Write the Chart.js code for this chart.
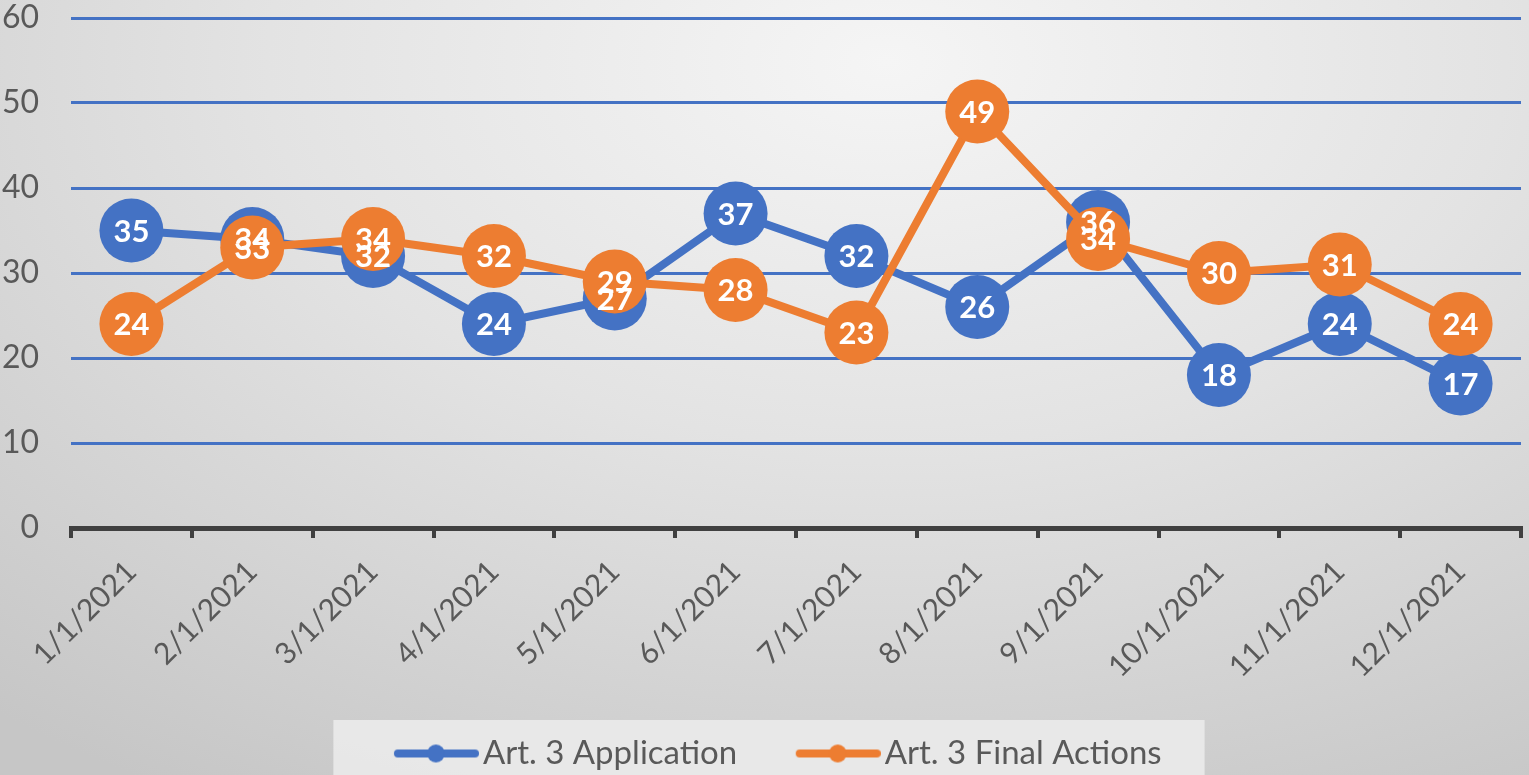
<!DOCTYPE html>
<html>
<head>
<meta charset="utf-8">
<script src="https://cdn.jsdelivr.net/npm/chart.js@4.4.0/dist/chart.umd.min.js"></script>
<style>
    html, body { margin: 0; padding: 0; }
    body {
        width: 1529px; height: 775px; overflow: hidden;
        background: radial-gradient(ellipse 90% 110% at 58% 8%, #f5f5f5 0%, #e3e3e3 45%, #c6c6c6 100%);
    }
    canvas { display: block; }
</style>
</head>
<body>
<canvas id="myChart" width="1529" height="775"></canvas>
<script>
const labels = ['1/1/2021', '2/1/2021', '3/1/2021', '4/1/2021', '5/1/2021', '6/1/2021',
    '7/1/2021', '8/1/2021', '9/1/2021', '10/1/2021', '11/1/2021', '12/1/2021'];
const application = [35, 34, 32, 24, 27, 37, 32, 26, 36, 18, 24, 17];
const finalActions = [24, 33, 34, 32, 29, 28, 23, 49, 34, 30, 31, 24];
const yTicks = [0, 10, 20, 30, 40, 50, 60];

const BLUE = '#4472C4';
const ORANGE = '#ED7D31';
const FONT = "Lato, 'Noto Sans', sans-serif";

// legend marker: line with a dot, transparent space on the left works as item gap
const legendIcon = (color) => {
    const c = document.createElement('canvas');
    c.width = 132; c.height = 20;
    const g = c.getContext('2d');
    g.strokeStyle = color;
    g.lineWidth = 8;
    g.lineCap = 'round';
    g.beginPath(); g.moveTo(51, 10); g.lineTo(128, 10); g.stroke();
    g.fillStyle = color;
    g.beginPath(); g.arc(89, 10, 9, 0, Math.PI * 2); g.fill();
    return c;
};

// white value labels drawn on top of every point
const valueLabels = {
    id: 'valueLabels',
    afterDatasetsDraw(chart) {
        const ctx = chart.ctx;
        ctx.save();
        ctx.fillStyle = '#ffffff';
        ctx.font = "bold 31px " + FONT;
        ctx.textAlign = 'center';
        ctx.textBaseline = 'middle';
        chart.data.datasets.forEach((ds, i) => {
            chart.getDatasetMeta(i).data.forEach((pt, j) => {
                ctx.fillText(ds.data[j], pt.x, pt.y + 1);
            });
        });
        ctx.restore();
    }
};

// light box behind the legend
const legendBox = {
    id: 'legendBox',
    beforeDraw(chart) {
        const lg = chart.legend;
        if (!lg || !lg.legendHitBoxes.length) return;
        const boxes = lg.legendHitBoxes;
        const last = boxes[boxes.length - 1];
        const left = boxes[0].left - 26;
        const right = last.left + last.width + 43;
        const ctx = chart.ctx;
        ctx.save();
        ctx.fillStyle = 'rgba(236,236,236,0.85)';
        ctx.fillRect(left, 720, right - left, chart.height - 720);
        ctx.restore();
    }
};

const ctx = document.getElementById('myChart').getContext('2d');
const myChart = new Chart(ctx, {
    type: 'line',
    data: {
        labels: labels,
        datasets: [{
            label: 'Art. 3 Application',
            data: application,
            borderColor: BLUE,
            backgroundColor: BLUE,
            borderWidth: 8,
            pointRadius: 32,
            pointHoverRadius: 32,
            pointBorderWidth: 0,
            pointStyle: 'circle',
            order: 1
        }, {
            label: 'Art. 3 Final Actions',
            data: finalActions,
            borderColor: ORANGE,
            backgroundColor: ORANGE,
            borderWidth: 8,
            pointRadius: 32,
            pointHoverRadius: 32,
            pointBorderWidth: 0,
            pointStyle: 'circle',
            order: 0
        }]
    },
    options: {
        responsive: false,
        animation: false,
        layout: { autoPadding: false, padding: { top: 18, right: 8, left: 0, bottom: -5 } },
        plugins: {
            tooltip: { enabled: false },
            legend: {
                position: 'bottom',
                labels: {
                    usePointStyle: true,
                    pointStyleWidth: 107,
                    color: '#595959',
                    font: { family: FONT, size: 33 },
                    padding: 24,
                    sort: (a, b) => a.datasetIndex - b.datasetIndex,
                    generateLabels: (chart) => chart.data.datasets.map((ds, i) => ({
                        text: ds.label,
                        datasetIndex: i,
                        pointStyle: legendIcon(ds.borderColor),
                        fontColor: '#595959',
                        hidden: false,
                        lineWidth: 0
                    }))
                }
            }
        },
        scales: {
            x: {
                offset: true,
                grid: {
                    display: true,
                    drawOnChartArea: false,
                    offset: true,
                    color: '#404040',
                    lineWidth: 4,
                    tickLength: 10,
                    tickWidth: 4
                },
                border: { color: '#404040', width: 5 },
                ticks: {
                    color: '#595959',
                    font: { family: FONT, size: 30 },
                    minRotation: 45,
                    maxRotation: 45,
                    autoSkip: false,
                    padding: 16
                },
                afterFit: (scale) => {
                    scale.height = 185;
                    scale.paddingLeft = 0;
                    scale.paddingRight = 0;
                }
            },
            y: {
                min: 0,
                max: 60,
                afterBuildTicks: (scale) => { scale.ticks = yTicks.map(v => ({ value: v })); },
                grid: {
                    color: (c) => c.tick && c.tick.value === 0 ? 'rgba(0,0,0,0)' : BLUE,
                    lineWidth: 3,
                    drawTicks: false
                },
                border: { display: false },
                ticks: {
                    color: '#595959',
                    font: { family: FONT, size: 32 },
                    padding: 32
                },
                afterFit: (scale) => {
                    scale.width = 71;
                    scale.paddingTop = 0;
                    scale.paddingBottom = 0;
                }
            }
        }
    },
    plugins: [legendBox, valueLabels]
});
</script>
</body>
</html>
